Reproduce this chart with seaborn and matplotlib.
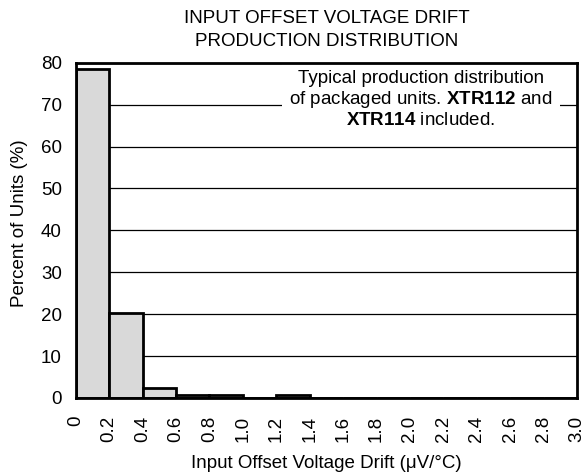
import numpy as np
import pandas as pd
import matplotlib
matplotlib.use("Agg")
import matplotlib.pyplot as plt
import seaborn as sns

# histogram values (percent of units per 0.2 uV/C bin)
bin_left = [0.0, 0.2, 0.4, 0.6, 0.8, 1.0, 1.2]
percent = [78.6, 20.3, 2.3, 0.8, 0.8, 0.0, 0.8]
bin_edges = [0.0, 0.2, 0.4, 0.6, 0.8, 1.0, 1.2, 1.4, 1.6, 1.8, 2.0,
             2.2, 2.4, 2.6, 2.8, 3.0]
x_labels = ["0", "0.2", "0.4", "0.6", "0.8", "1.0", "1.2", "1.4", "1.6",
            "1.8", "2.0", "2.2", "2.4", "2.6", "2.8", "3.0"]
y_ticks = [0, 10, 20, 30, 40, 50, 60, 70, 80]

sns.set_style("white")
plt.rcParams["font.family"] = ["Liberation Sans", "DejaVu Sans"]
plt.rcParams["mathtext.fontset"] = "custom"
plt.rcParams["mathtext.rm"] = "Liberation Sans"
plt.rcParams["mathtext.bf"] = "Liberation Sans:bold"
plt.rcParams["text.color"] = "black"
plt.rcParams["axes.labelcolor"] = "black"
plt.rcParams["xtick.color"] = "black"
plt.rcParams["ytick.color"] = "black"

fs = 13.5
df = pd.DataFrame({"drift": bin_left, "pct": percent})

fig = plt.figure(figsize=(5.87, 4.76), dpi=100)
ax = fig.add_axes([0.129, 0.164, 0.854, 0.704])

ax.set_axisbelow(True)
ax.yaxis.grid(True, color="black", linewidth=0.9)
sns.histplot(data=df, x="drift", weights="pct", bins=bin_edges, ax=ax,
             color="#d9d9d9", alpha=1, edgecolor="black", linewidth=2)

ax.set_xlim(0, 3.0)
ax.set_ylim(0, 80)
ax.set_xticks(bin_edges)
ax.set_xticklabels(x_labels, rotation=90, fontsize=fs)
ax.set_yticks(y_ticks)
ax.set_yticklabels([str(v) for v in y_ticks], fontsize=fs)
ax.tick_params(axis="x", direction="out", length=5, width=1.5, pad=8)
ax.tick_params(axis="y", length=0, pad=10)
for sp in ax.spines.values():
    sp.set_visible(True)
    sp.set_linewidth(2)
    sp.set_color("black")

ax.set_xlabel("Input Offset Voltage Drift (\u03bcV/\u00b0C)", fontsize=fs, labelpad=9)
ax.set_ylabel("Percent of Units (%)", fontsize=fs)
ax.yaxis.set_label_coords(-0.096, 0.52)
ax.set_title("INPUT OFFSET VOLTAGE DRIFT\nPRODUCTION DISTRIBUTION",
             fontsize=fs, pad=12, linespacing=1.45)

note = ("Typical production distribution\n"
        "of packaged units. $\\bf{XTR112}$ and\n"
        "$\\bf{XTR114}$ included.")
ax.text(0.689, 0.979, note, transform=ax.transAxes, ha="center", va="top",
        multialignment="center", fontsize=fs, linespacing=1.15, zorder=2.4,
        bbox=dict(facecolor="white", edgecolor="none", pad=5))

fig.savefig("out.png", dpi=100)
